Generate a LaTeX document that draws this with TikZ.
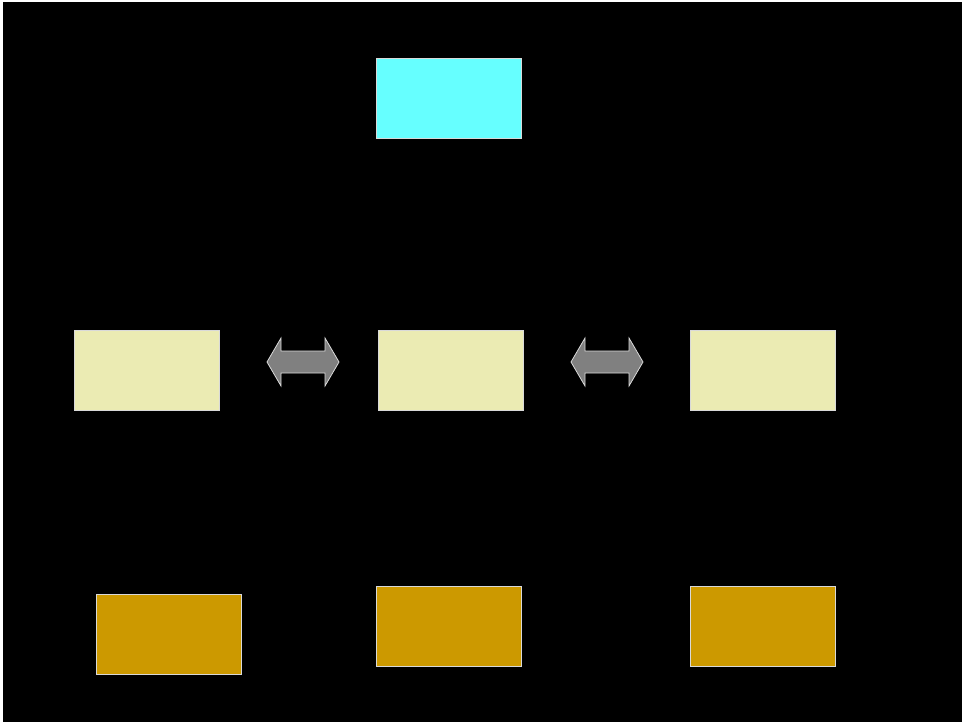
\documentclass[tikz,border=0pt]{standalone}
\begin{document}
\begin{tikzpicture}[x=1pt,y=-1pt,
  box/.style={draw=white!85!black, line width=0.8pt, inner sep=0pt, minimum width=145pt, minimum height=80pt, anchor=north west},
  top/.style={box, fill={rgb,255:red,102;green,255;blue,255}},
  mid/.style={box, fill={rgb,255:red,235;green,235;blue,179}},
  bot/.style={box, fill={rgb,255:red,204;green,153;blue,0}},
  dbl/.style={fill={rgb,255:red,128;green,128;blue,128}, draw=white!85!black, line width=0.8pt}]
\useasboundingbox (0,0) rectangle (963,725);
\fill[white] (0,0) rectangle (963,725);
\fill[black] (3,2) rectangle (962,722);
\node[top] (t) at (376,58) {};
\node[mid] (m1) at (74,330) {};
\node[mid] (m2) at (378,330) {};
\node[mid] (m3) at (690,330) {};
\node[bot] (b1) at (96,594) {};
\node[bot] (b2) at (376,586) {};
\node[bot] (b3) at (690,586) {};
\draw[dbl] (267,362) -- (281,338) -- (281,351) -- (325,351) -- (325,338) -- (339,362) -- (325,386) -- (325,373) -- (281,373) -- (281,386) -- cycle;
\draw[dbl] (571,362) -- (585,338) -- (585,351) -- (629,351) -- (629,338) -- (643,362) -- (629,386) -- (629,373) -- (585,373) -- (585,386) -- cycle;
\end{tikzpicture}
\end{document}
